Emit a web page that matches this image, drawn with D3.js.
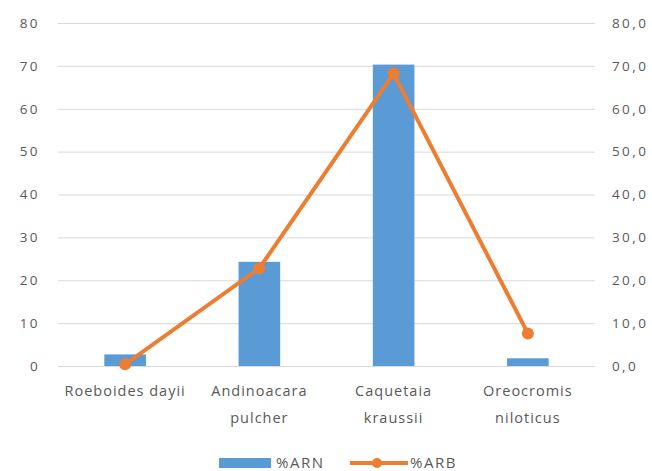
<!DOCTYPE html>
<html>
<head>
<meta charset="utf-8">
<script src="https://cdn.jsdelivr.net/npm/d3@7"></script>
<style>
  html, body { margin: 0; padding: 0; background: #fff; }
  svg text { font-family: "Open Sans", "DejaVu Sans", sans-serif; fill: #595959; }
</style>
</head>
<body>
<svg id="chart" width="652" height="471"></svg>
<script>
// Species and their two percentage series
const categories = [["Roeboides dayii"], ["Andinoacara", "pulcher"], ["Caquetaia", "kraussii"], ["Oreocromis", "niloticus"]];
const arnValues = [2.7, 24.3, 70.3, 1.8];
const arbValues = [0.4, 22.8, 68.2, 7.6];
const leftTicks = [0, 10, 20, 30, 40, 50, 60, 70, 80];
const rightTicks = [0, 10, 20, 30, 40, 50, 60, 70, 80];

const svg = d3.select("#chart");
const margin = { left: 58, right: 57, top: 23, bottom: 105 };
const W = 652, H = 471;

const x = d3.scaleBand()
  .domain(categories.map((d, i) => i))
  .range([margin.left, W - margin.right])
  .paddingInner(0.69)
  .paddingOuter(0.345);
const xPoint = i => x(i) + x.bandwidth() / 2;

const yLeft = d3.scaleLinear().domain([0, 80]).range([H - margin.bottom, margin.top]);
const yRight = d3.scaleLinear().domain([0, 80]).range([H - margin.bottom, margin.top]);

// Gridlines
svg.append("g")
  .selectAll("line")
  .data(leftTicks)
  .join("line")
  .attr("x1", margin.left).attr("x2", W - margin.right)
  .attr("y1", d => yLeft(d) + 0.5).attr("y2", d => yLeft(d) + 0.5)
  .attr("stroke", "#d9d9d9").attr("stroke-width", 1);

function styleAxisText(g) {
  g.select(".domain").remove();
  g.selectAll("text")
    .attr("font-size", 13.5)
    .attr("letter-spacing", 2.4)
    .style("font-family", "'Open Sans', sans-serif")
    .attr("fill", "#595959");
}

// Left axis
const leftAxis = svg.append("g")
  .attr("transform", `translate(${margin.left - 18},0)`)
  .call(d3.axisLeft(yLeft).tickValues(leftTicks).tickSize(0).tickPadding(0).tickFormat(d3.format("d")));
styleAxisText(leftAxis);

// Right axis
const rightAxis = svg.append("g")
  .attr("transform", `translate(${W - margin.right + 17},0)`)
  .call(d3.axisRight(yRight).tickValues(rightTicks).tickSize(0).tickPadding(0)
    .tickFormat(d => d3.format(".1f")(d).replace(".", ",")));
styleAxisText(rightAxis);

// Bars (%ARN)
svg.append("g")
  .selectAll("rect")
  .data(arnValues)
  .join("rect")
  .attr("x", (d, i) => x(i))
  .attr("width", x.bandwidth())
  .attr("y", d => yLeft(d))
  .attr("height", d => yLeft(0) - yLeft(d))
  .attr("fill", "#5b9bd5");

// Line (%ARB) on the secondary axis
const line = d3.line().x((d, i) => xPoint(i)).y(d => yRight(d));
svg.append("path")
  .datum(arbValues)
  .attr("d", line)
  .attr("fill", "none")
  .attr("stroke", "#ed7d31")
  .attr("stroke-width", 4)
  .attr("stroke-linejoin", "round");
svg.append("g")
  .selectAll("circle")
  .data(arbValues)
  .join("circle")
  .attr("cx", (d, i) => xPoint(i))
  .attr("cy", d => yRight(d))
  .attr("r", 6)
  .attr("fill", "#ed7d31");

// Category labels
const catG = svg.append("g");
categories.forEach((lines, i) => {
  const t = catG.append("text")
    .attr("x", xPoint(i))
    .attr("y", 396)
    .attr("text-anchor", "middle")
    .attr("font-size", 14.5)
    .attr("letter-spacing", 1);
  lines.forEach((s, j) => {
    t.append("tspan").attr("x", xPoint(i)).attr("dy", j === 0 ? 0 : 27).text(s);
  });
});

// Legend
const legend = svg.append("g");
legend.append("rect").attr("x", 219).attr("y", 458).attr("width", 52).attr("height", 10).attr("fill", "#5b9bd5");
legend.append("text").attr("x", 276).attr("y", 468).attr("font-size", 15).attr("letter-spacing", 1.5).text("%ARN");
legend.append("line").attr("x1", 350).attr("x2", 408).attr("y1", 463).attr("y2", 463)
  .attr("stroke", "#ed7d31").attr("stroke-width", 4);
legend.append("circle").attr("cx", 377).attr("cy", 463).attr("r", 5).attr("fill", "#ed7d31");
legend.append("text").attr("x", 410).attr("y", 468).attr("font-size", 15).attr("letter-spacing", 1.5).text("%ARB");
</script>
</body>
</html>
